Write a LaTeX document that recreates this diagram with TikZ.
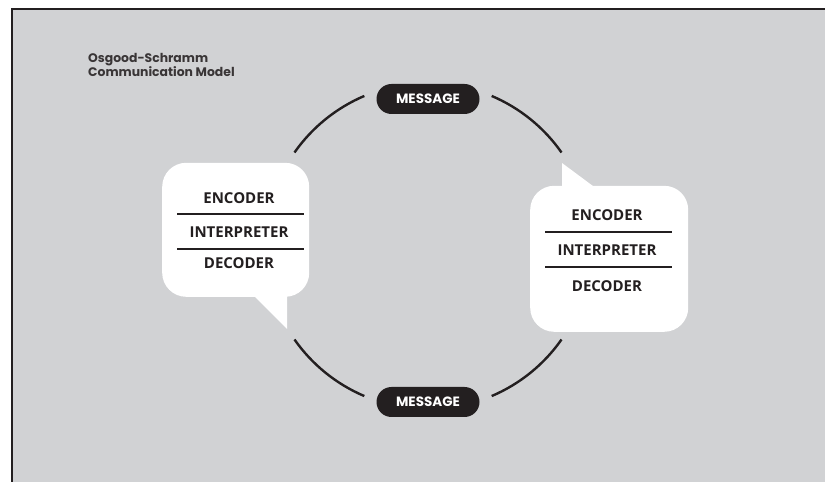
\documentclass[tikz,border=0pt]{standalone}
\usepackage{fontspec}
\setmainfont{Open Sans}
\newfontfamily\geofont{Poppins}
\newfontfamily\humfont{Open Sans}
\usetikzlibrary{shapes.misc}
\definecolor{panel}{HTML}{D1D2D4}
\definecolor{ink}{HTML}{231F20}
\begin{document}
\begin{tikzpicture}[x=1pt,y=1pt,
  arcline/.style={draw=ink, line width=2.4pt},
  rule/.style={draw=ink, line width=2pt},
  layer/.style={font=\humfont\bfseries\fontsize{15}{18}\selectfont, text=ink, inner sep=0pt},
  pill/.style={rounded rectangle, fill=ink, text=white, minimum width=103pt,
    minimum height=30pt, inner sep=0pt, font=\geofont\bfseries\fontsize{13.5}{15}\selectfont},
  bubble/.style={fill=white, rounded corners=24pt, inner sep=0pt, anchor=south west},
]
\useasboundingbox (0,0) rectangle (825,482);
\fill[white] (0,0) rectangle (825,482);
% grey panel with its dark left and top edges
\fill[panel] (12,0) rectangle (825,473);
\draw[ink, line width=1.5pt] (12,0) -- (12,473) -- (825,473);

% title
\node[anchor=north west, align=left, inner sep=0pt, text=ink!90,
  font=\geofont\bfseries\fontsize{12.4}{12.6}\selectfont] (title) at (88,429)
  {Osgood-Schramm\\Communication Model};

% cycle of arcs
\coordinate (c) at (428,236);
\draw[arcline] (c) ++(35:163) arc[start angle=35, end angle=67, radius=163];
\draw[arcline] (c) ++(113:163) arc[start angle=113, end angle=145, radius=163];
\draw[arcline] (c) ++(215:163) arc[start angle=215, end angle=247, radius=163];
\draw[arcline] (c) ++(293:163) arc[start angle=293, end angle=325, radius=163];

% messages
\node[pill] (mtop) at (428,383) {MESSAGE};
\node[pill] (mbot) at (428,80) {MESSAGE};

% left speech bubble
\node[bubble, minimum width=147pt, minimum height=134pt] (lbody) at (162,185) {};
\fill[white] (250,190) -- (287,190) -- (287,153) -- cycle;
\node[layer] (lenc) at (239,284) {ENCODER};
\node[layer] (lint) at (239,250) {INTERPRETER};
\node[layer] (ldec) at (239,219) {DECODER};
\draw[rule] (177,268) -- (304,268);
\draw[rule] (177,233) -- (304,233);

% right speech bubble
\node[bubble, minimum width=158pt, minimum height=146pt] (rbody) at (530,150) {};
\fill[white] (562,290) -- (562,319) -- (601,290) -- cycle;
\node[layer] (renc) at (607,266.5) {ENCODER};
\node[layer] (rint) at (607,231.5) {INTERPRETER};
\node[layer] (rdec) at (607,196) {DECODER};
\draw[rule] (545,250) -- (672,250);
\draw[rule] (545,215) -- (672,215);
\end{tikzpicture}
\end{document}
